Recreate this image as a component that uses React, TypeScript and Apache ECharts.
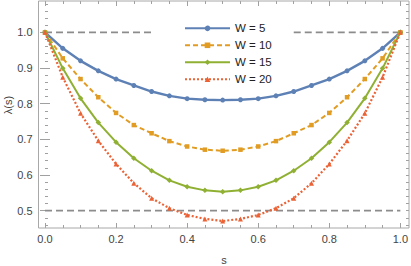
import React, { useEffect, useRef } from "react";
import * as echarts from "echarts";

const sValues = [0, 0.05, 0.1, 0.15, 0.2, 0.25, 0.3, 0.35, 0.4, 0.45, 0.5, 0.55, 0.6, 0.65, 0.7, 0.75, 0.8, 0.85, 0.9, 0.95, 1.0];
const w5 = [1.0, 0.955, 0.92, 0.892, 0.869, 0.851, 0.834, 0.822, 0.814, 0.811, 0.81, 0.811, 0.814, 0.822, 0.834, 0.851, 0.869, 0.892, 0.92, 0.955, 1.0];
const w10 = [1.0, 0.927, 0.869, 0.818, 0.774, 0.74, 0.717, 0.695, 0.68, 0.671, 0.668, 0.671, 0.68, 0.695, 0.717, 0.74, 0.774, 0.818, 0.869, 0.927, 1.0];
const w15 = [1.0, 0.899, 0.815, 0.747, 0.692, 0.647, 0.612, 0.585, 0.567, 0.557, 0.553, 0.557, 0.567, 0.585, 0.612, 0.647, 0.692, 0.747, 0.815, 0.899, 1.0];
const w20 = [1.0, 0.874, 0.773, 0.696, 0.631, 0.577, 0.535, 0.507, 0.488, 0.477, 0.471, 0.477, 0.488, 0.507, 0.535, 0.577, 0.631, 0.696, 0.773, 0.874, 1.0];
const seriesNames = ["W = 5", "W = 10", "W = 15", "W = 20"];
const refTop = [[0, 1], [0.3, 1]];
const refTopRight = [[0.7, 1], [1, 1]];
const refBottom = [[0, 0.5], [1, 0.5]];

const FONT = "Liberation Sans";
const TICK = "#a0a0a0";
const LABEL = "#444";

export default function App() {
  const ref = useRef<HTMLDivElement>(null);
  useEffect(() => {
    if (!ref.current) return;
    const chart = echarts.init(ref.current, undefined, { renderer: "svg" });
    const pts = (ys: number[]) => sValues.map((s, i) => [s, ys[i]]);
    const gridA = { left: 45, right: 8.7, top: 32.3, bottom: 55.3 };
    // grid for y minor ticks spanning 0.46..1.08
    const gridB = { left: 45, right: 8.7, top: 3.76, bottom: 41.03 };
    const tickAxisCommon = {
      axisLine: { show: false },
      splitLine: { show: false },
    };
    const mk = (name: string, data: number[], color: string, symbol: string, size: number, lineType: any, width: number) => ({
      type: "line",
      name,
      data: pts(data),
      xAxisIndex: 0,
      yAxisIndex: 0,
      clip: false,
      symbol,
      symbolSize: size,
      color,
      itemStyle: { color },
      lineStyle: { color, width, type: lineType },
      z: 5,
    });
    const refLine = (data: number[][]) => ({
      type: "line",
      name: "ref",
      data,
      xAxisIndex: 0,
      yAxisIndex: 0,
      clip: false,
      symbol: "none",
      silent: true,
      lineStyle: { color: "#8c8c8c", width: 1.8, type: [7, 4] },
      z: 2,
    });
    chart.setOption({
      animation: false,
      grid: [gridA, gridB],
      xAxis: [
        {
          type: "value", gridIndex: 0, min: 0, max: 1, interval: 0.2, position: "bottom", offset: 17.3,
          ...tickAxisCommon,
          axisTick: { show: true, inside: true, length: 5, lineStyle: { color: TICK, width: 1 } },
          minorTick: { show: true, splitNumber: 4, length: 3, lineStyle: { color: TICK, width: 1 } },
          axisLabel: { margin: 5, color: LABEL, fontSize: 11, fontFamily: FONT, formatter: (v: number) => v.toFixed(1) },
        },
        {
          type: "value", gridIndex: 0, min: 0, max: 1, interval: 0.2, position: "top", offset: 31.3,
          ...tickAxisCommon,
          axisTick: { show: true, inside: true, length: 5, lineStyle: { color: TICK, width: 1 } },
          minorTick: { show: true, splitNumber: 4, length: 3, lineStyle: { color: TICK, width: 1 } },
          axisLabel: { show: false },
        },
        {
          type: "value", gridIndex: 1, min: 0, max: 1, show: false,
        },
      ],
      yAxis: [
        {
          type: "value", gridIndex: 0, min: 0.5, max: 1.0, interval: 0.1, position: "left", offset: 6.5,
          ...tickAxisCommon,
          axisTick: { show: true, inside: true, length: 5, lineStyle: { color: TICK, width: 1 } },
          axisLabel: { margin: 6, color: LABEL, fontSize: 11, fontFamily: FONT, formatter: (v: number) => v.toFixed(1) },
        },
        {
          type: "value", gridIndex: 0, min: 0.5, max: 1.0, interval: 0.1, position: "right", offset: 6.7,
          ...tickAxisCommon,
          axisTick: { show: true, inside: true, length: 5, lineStyle: { color: TICK, width: 1 } },
          axisLabel: { show: false },
        },
        {
          type: "value", gridIndex: 1, min: 0.46, max: 1.08, interval: 0.02, position: "left", offset: 6.5,
          ...tickAxisCommon,
          axisTick: { show: true, inside: true, length: 3, lineStyle: { color: TICK, width: 1 } },
          axisLabel: { show: false },
        },
        {
          type: "value", gridIndex: 1, min: 0.46, max: 1.08, interval: 0.02, position: "right", offset: 6.7,
          ...tickAxisCommon,
          axisTick: { show: true, inside: true, length: 3, lineStyle: { color: TICK, width: 1 } },
          axisLabel: { show: false },
        },
      ],
      legend: {
        data: seriesNames,
        orient: "vertical",
        left: 179,
        top: 17.3,
        itemWidth: 45,
        itemHeight: 7,
        itemGap: 5,
        selectedMode: false,
        textStyle: { fontSize: 11.5, fontFamily: FONT, color: "#222", lineHeight: 12 },
      },
      series: [
        refLine(refTop),
        refLine(refTopRight),
        refLine(refBottom),
        mk(seriesNames[0], w5, "#5E81B5", "circle", 5, "solid", 2.4),
        mk(seriesNames[1], w10, "#E19C24", "rect", 4.5, [5, 3], 2),
        mk(seriesNames[2], w15, "#8FB032", "diamond", 5.5, "solid", 2),
        mk(seriesNames[3], w20, "#EB6235", "triangle", 5, [2, 2], 2.2),
      ],
      graphic: [
        {
          type: "rect",
          shape: { x: 38.5, y: 1, width: 370.5, height: 227 },
          style: { fill: "none", stroke: "#a8a8a8", lineWidth: 1 },
          silent: true,
          z: 1,
        },
        {
          type: "text",
          x: 8,
          y: 105,
          rotation: Math.PI / 2,
          style: { text: "λ(s)", fontSize: 11, fontFamily: FONT, fill: LABEL, align: "center", verticalAlign: "middle" },
        },
        {
          type: "text",
          x: 224,
          y: 260,
          style: { text: "s", fontSize: 11, fontFamily: FONT, fill: LABEL, align: "center", verticalAlign: "middle" },
        },
      ],
    });
    return () => chart.dispose();
  }, []);
  return <div ref={ref} style={{ width: 411, height: 266, position: "absolute", left: 0, top: 0 }} />;
}
